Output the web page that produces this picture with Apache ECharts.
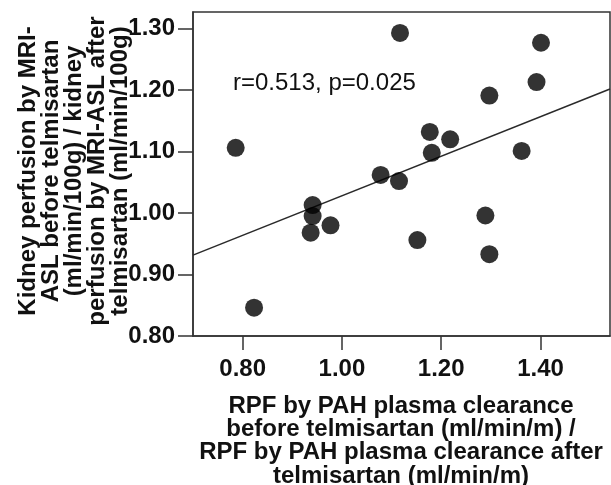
<!DOCTYPE html>
<html>
<head>
<meta charset="utf-8">
<script src="https://cdn.jsdelivr.net/npm/echarts@6/dist/echarts.min.js"></script>
<style>
html,body{margin:0;padding:0;background:#fff;}
#chart{width:611px;height:485px;}
</style>
</head>
<body>
<div id="chart"></div>
<script>
// Data
const rpfRatio = [0.786, 0.823, 1.117, 0.941, 0.941, 0.937, 0.977, 1.078, 1.115, 1.152, 1.177, 1.181, 1.218, 1.297, 1.289, 1.297, 1.362, 1.392, 1.401];
const aslRatio = [1.106, 0.846, 1.293, 1.013, 0.995, 0.968, 0.980, 1.062, 1.052, 0.956, 1.132, 1.098, 1.120, 1.191, 0.996, 0.933, 1.101, 1.213, 1.277];
const xTicks = [0.80, 1.00, 1.20, 1.40];
const yTicks = [0.80, 0.90, 1.00, 1.10, 1.20, 1.30];
const xRange = [0.70, 1.54];
const yRange = [0.80, 1.327];
const annotation = 'r=0.513, p=0.025';
const xTitle = 'RPF by PAH plasma clearance\nbefore telmisartan (ml/min/m) /\nRPF by PAH plasma clearance after\ntelmisartan (ml/min/m)';
const yTitle = 'Kidney perfusion by MRI-\nASL before telmisartan\n(ml/min/100g) / kidney\nperfusion by MRI-ASL after\ntelmisartan (ml/min/100g)';

// Least-squares fit line from data
const n = rpfRatio.length;
const mx = rpfRatio.reduce((a, b) => a + b, 0) / n;
const my = aslRatio.reduce((a, b) => a + b, 0) / n;
let sxy = 0, sxx = 0;
for (let i = 0; i < n; i++) { sxy += (rpfRatio[i] - mx) * (aslRatio[i] - my); sxx += (rpfRatio[i] - mx) ** 2; }
const slope = sxy / sxx;
const intercept = my - slope * mx;
const fitLine = xRange.map(x => [x, intercept + slope * x]);

const points = rpfRatio.map((x, i) => [x, aslRatio[i]]);
const FONT = '"Liberation Sans", Arial, Helvetica, sans-serif';
const AX = '#333';
const TXT = '#111';

const chart = echarts.init(document.getElementById('chart'), null, {renderer: 'canvas'});
chart.setOption({
  animation: false,
  backgroundColor: '#fff',
  grid: {left: 193, top: 12, right: 1, bottom: 149, show: true, borderColor: AX, borderWidth: 1.5, backgroundColor: 'transparent'},
  xAxis: {
    type: 'value', min: xRange[0], max: xRange[1],
    axisLine: {show: true, lineStyle: {color: AX, width: 1.5}},
    axisTick: {show: true, length: 14, customValues: xTicks, lineStyle: {color: AX, width: 1.5}},
    axisLabel: {customValues: xTicks, margin: 21, fontSize: 24, fontWeight: 'bold', fontFamily: FONT, color: TXT, formatter: v => v.toFixed(2)},
    splitLine: {show: false}
  },
  yAxis: {
    type: 'value', min: yRange[0], max: yRange[1],
    axisLine: {show: true, lineStyle: {color: AX, width: 1.5}},
    axisTick: {show: true, length: 15, customValues: yTicks, lineStyle: {color: AX, width: 1.5}},
    axisLabel: {customValues: yTicks, margin: 18, fontSize: 24, fontWeight: 'bold', fontFamily: FONT, color: TXT, formatter: v => v.toFixed(2)},
    splitLine: {show: false}
  },
  series: [
    {
      type: 'line', data: fitLine, symbol: 'none', z: 2,
      lineStyle: {color: '#2a2a2a', width: 1.5}
    },
    {
      type: 'scatter', data: points, symbol: 'circle', symbolSize: 18, z: 3,
      itemStyle: {color: '#000'}
    }
  ],
  graphic: [
    {
      type: 'text', x: 233, y: 83,
      style: {text: annotation, font: 'normal 24px ' + FONT, fill: TXT, textAlign: 'left', textVerticalAlign: 'middle', align: 'left', verticalAlign: 'middle'}
    },
    {
      type: 'text', x: 401, y: 441,
      style: {text: xTitle, font: 'bold 24px ' + FONT, fill: TXT, lineHeight: 23.4, textAlign: 'center', textVerticalAlign: 'middle', align: 'center', verticalAlign: 'middle'}
    },
    {
      type: 'text', x: 74, y: 171, rotation: Math.PI / 2,
      style: {text: yTitle, font: 'bold 24px ' + FONT, fill: TXT, lineHeight: 23, textAlign: 'center', textVerticalAlign: 'middle', align: 'center', verticalAlign: 'middle'}
    }
  ]
});
</script>
</body>
</html>
